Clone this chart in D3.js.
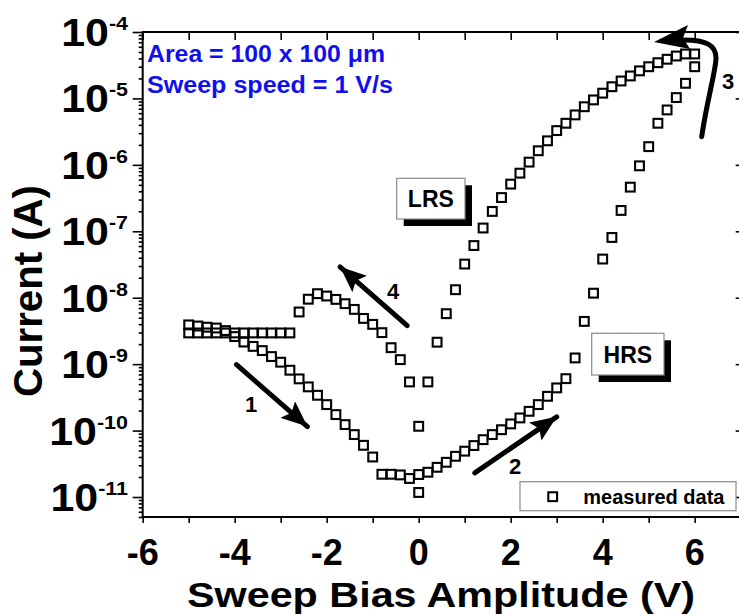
<!DOCTYPE html>
<html>
<head>
<meta charset="utf-8">
<script src="https://cdn.jsdelivr.net/npm/d3@7"></script>
<style>
body { margin: 0; background: #fff; }
svg { display: block; font-family: "Liberation Sans", Arial, sans-serif; font-weight: bold; }
</style>
</head>
<body>
<svg id="chart" width="739" height="615"></svg>
<script>
// sweep 1 : -5 V -> 0 V, HRS negative side
var sweep1Volts = [-5.0, -4.8, -4.6, -4.4, -4.2, -4.0, -3.8, -3.6, -3.4, -3.2, -3.0, -2.8, -2.6,
    -2.4, -2.2, -2.0, -1.8, -1.6, -1.4, -1.2, -1.0, -0.8, -0.6, -0.4, -0.2, 0.0];
var sweep1Amps = [3.9e-9, 3.75e-9, 3.6e-9, 3.5e-9, 3.2e-9, 2.6e-9, 2.15e-9, 1.85e-9, 1.6e-9, 1.3e-9,
    1.07e-9, 8.1e-10, 6.0e-10, 4.55e-10, 3.4e-10, 2.46e-10, 1.74e-10, 1.23e-10, 8.7e-11, 6.0e-11,
    4.0e-11, 2.2e-11, 2.2e-11, 2.15e-11, 1.9e-11, 1.17e-11];

// sweep 2 : 0 V -> 6 V, HRS positive side (set)
var sweep2Volts = [0.0, 0.2, 0.4, 0.6, 0.8, 1.0, 1.2, 1.4, 1.6, 1.8, 2.0, 2.2, 2.4, 2.6, 2.8, 3.0,
    3.2, 3.4, 3.6, 3.8, 4.0, 4.2, 4.4, 4.6, 4.8, 5.0, 5.2, 5.4, 5.6, 5.8, 6.0];
var sweep2Amps = [2.18e-11, 2.36e-11, 2.8e-11, 3.33e-11, 4.1e-11, 4.9e-11, 5.95e-11, 7.3e-11, 8.7e-11,
    1.03e-10, 1.26e-10, 1.55e-10, 1.95e-10, 2.46e-10, 3.28e-10, 4.39e-10, 6.05e-10, 1.24e-9, 4.4e-9,
    1.17e-8, 3.82e-8, 8.07e-8, 2.06e-7, 4.62e-7, 9.67e-7, 1.88e-6, 4.23e-6, 6.71e-6, 1.03e-5, 1.69e-5, 3.0e-5];

// sweep 3 : 6 V -> 0 V, LRS
var sweep3Volts = [6.0, 5.8, 5.6, 5.4, 5.2, 5.0, 4.8, 4.6, 4.4, 4.2, 4.0, 3.8, 3.6, 3.4, 3.2, 3.0,
    2.8, 2.6, 2.4, 2.2, 2.0, 1.8, 1.6, 1.4, 1.2, 1.0, 0.8, 0.6, 0.4, 0.2, 0.0];
var sweep3Amps = [4.67e-5, 4.67e-5, 4.35e-5, 3.89e-5, 3.45e-5, 3.0e-5, 2.6e-5, 2.18e-5, 1.83e-5, 1.5e-5,
    1.2e-5, 9.5e-6, 7.5e-6, 5.65e-6, 4.23e-6, 3.28e-6, 2.3e-6, 1.63e-6, 1.1e-6, 7.5e-7, 5.13e-7,
    3.22e-7, 1.99e-7, 1.12e-7, 6.1e-8, 3.21e-8, 1.32e-8, 5.75e-9, 2.14e-9, 5.4e-10, 1.16e-10];

// sweep 4 : 0 V -> -5 V, reset
var sweep4Volts = [-0.2, -0.4, -0.6, -0.8, -1.0, -1.2, -1.4, -1.6, -1.8, -2.0, -2.2, -2.4, -2.6,
    -2.8, -3.0, -3.2, -3.4, -3.6, -3.8, -4.0, -4.2, -4.4, -4.6, -4.8, -5.0];
var sweep4Amps = [5.4e-10, 1.17e-9, 1.77e-9, 2.98e-9, 3.97e-9, 4.88e-9, 6.67e-9, 8.13e-9, 9.44e-9,
    1.06e-8, 1.15e-8, 9.5e-9, 6.1e-9, 2.95e-9, 2.95e-9, 2.95e-9, 2.95e-9, 2.95e-9, 2.95e-9,
    2.95e-9, 2.95e-9, 2.95e-9, 2.95e-9, 2.95e-9, 2.95e-9];

var xTicks = [-6, -5, -4, -3, -2, -1, 0, 1, 2, 3, 4, 5, 6, 7];
var xTickLabels = [-6, -4, -2, 0, 2, 4, 6];
var yDecades = [-11, -10, -9, -8, -7, -6, -5, -4];

// straight arrows, [volts, amps] tail then tip
var arrows = [
    {label: '1', from: [-3.96, 9.8e-10], to: [-2.42, 1.15e-10], lx: 251, ly: 412},
    {label: '2', from: [1.22, 2.31e-11], to: [3.0, 1.61e-10], lx: 515, ly: 474},
    {label: '4', from: [-0.25, 3.8e-9], to: [-1.71, 2.92e-8], lx: 393, ly: 299}
];

var svg = d3.select('#chart');
var plotL = 142.7, plotR = 740.7, plotT = 32, plotB = 517;

var x = d3.scaleLinear().domain([-6, 7]).range([plotL, plotR]);
var y = d3.scaleLog().domain([5e-12, 1e-4]).range([plotB, plotT]);

var points = [];
[[sweep1Volts, sweep1Amps], [sweep2Volts, sweep2Amps], [sweep3Volts, sweep3Amps], [sweep4Volts, sweep4Amps]]
    .forEach(function (s) {
        s[0].forEach(function (v, i) { points.push([v, s[1][i]]); });
    });

// frame + axes
var allY = y.ticks();
var majorY = allY.filter(function (d) { return Math.abs(Math.log10(d) - Math.round(Math.log10(d))) < 1e-6; });
var minorY = allY.filter(function (d) { return majorY.indexOf(d) < 0; });

function axisStyle(g) {
    g.select('.domain').remove();
    g.selectAll('line').attr('stroke', '#000').attr('stroke-width', 1.6);
    g.selectAll('text').remove();
}

svg.append('g').attr('transform', 'translate(' + plotL + ',0)')
    .call(d3.axisLeft(y).tickValues(majorY).tickSize(10)).call(axisStyle);
svg.append('g').attr('transform', 'translate(' + plotL + ',0)')
    .call(d3.axisLeft(y).tickValues(minorY).tickSize(4)).call(axisStyle);
svg.append('g').attr('transform', 'translate(' + plotR + ',0)')
    .call(d3.axisRight(y).tickValues(majorY).tickSize(-5)).call(axisStyle);
svg.append('g').attr('transform', 'translate(0,' + plotB + ')')
    .call(d3.axisBottom(x).tickValues(xTicks).tickSize(6)).call(axisStyle);
svg.append('g').attr('transform', 'translate(0,' + plotT + ')')
    .call(d3.axisTop(x).tickValues(xTicks).tickSize(-8)).call(axisStyle);

svg.append('path')
    .attr('d', 'M' + plotR + ',' + plotT + 'H' + plotL + 'V' + plotB + 'H' + plotR)
    .attr('fill', 'none').attr('stroke', '#000').attr('stroke-width', 2);

// tick labels
svg.selectAll('.xlab').data(xTickLabels).enter().append('text')
    .attr('class', 'xlab')
    .attr('x', function (d) { return x(d); })
    .attr('y', 565)
    .attr('text-anchor', 'middle')
    .style('font-size', '36px')
    .text(function (d) { return String(d); });

var ylab = svg.selectAll('.ylab').data(yDecades).enter().append('g')
    .attr('class', 'ylab')
    .attr('transform', function (d) { return 'translate(128,' + (y(Math.pow(10, d)) + 14) + ') scale(1.13,1)'; })
    .append('text')
    .attr('text-anchor', 'end');
ylab.append('tspan').style('font-size', '38px').text('10');
ylab.append('tspan').style('font-size', '19px').attr('dy', -16).text(function (d) { return String(d); });

// axis titles
svg.append('text')
    .attr('x', 441).attr('y', 607)
    .attr('text-anchor', 'middle')
    .attr('textLength', 508).attr('lengthAdjust', 'spacingAndGlyphs')
    .style('font-size', '35px')
    .text('Sweep Bias Amplitude (V)');

svg.append('text')
    .attr('transform', 'translate(42,291) rotate(-90)')
    .attr('text-anchor', 'middle')
    .attr('textLength', 212).attr('lengthAdjust', 'spacingAndGlyphs')
    .style('font-size', '40px')
    .text('Current (A)');

// measured data
svg.append('g').selectAll('rect').data(points).enter().append('rect')
    .attr('x', function (d) { return x(d[0]) - 4.4; })
    .attr('y', function (d) { return y(d[1]) - 4.4; })
    .attr('width', 8.8).attr('height', 8.8)
    .attr('fill', 'none').attr('stroke', '#000').attr('stroke-width', 2.1);

// info text
svg.append('text').attr('x', 147).attr('y', 61.5)
    .attr('fill', '#1010ee').style('font-size', '23px')
    .attr('textLength', 238).attr('lengthAdjust', 'spacingAndGlyphs')
    .text('Area = 100 x 100 \u03bcm');
svg.append('text').attr('x', 147).attr('y', 92.5)
    .attr('fill', '#1010ee').style('font-size', '23px')
    .attr('textLength', 246).attr('lengthAdjust', 'spacingAndGlyphs')
    .text('Sweep speed = 1 V/s');

// LRS / HRS boxes
function stateBox(x0, y0, w, h, label) {
    svg.append('rect').attr('x', x0 + 7).attr('y', y0 + 7).attr('width', w).attr('height', h).attr('fill', '#000');
    svg.append('rect').attr('x', x0).attr('y', y0).attr('width', w).attr('height', h)
        .attr('fill', '#fff').attr('stroke', '#8a8a8a').attr('stroke-width', 1.2);
    svg.append('text').attr('x', x0 + w / 2).attr('y', y0 + h / 2 + 8.5)
        .attr('text-anchor', 'middle').style('font-size', '23px').text(label);
}
stateBox(396.7, 178.3, 68.3, 40.7, 'LRS');
stateBox(591.7, 333.3, 72.3, 41.7, 'HRS');

// arrows
var defs = svg.append('defs');
defs.append('marker')
    .attr('id', 'head')
    .attr('markerUnits', 'userSpaceOnUse')
    .attr('viewBox', '0 -11 26 22')
    .attr('markerWidth', 26).attr('markerHeight', 22)
    .attr('refX', 26).attr('refY', 0)
    .attr('orient', 'auto')
    .append('path').attr('d', 'M0,-11L26,0L0,11L5,0Z').attr('fill', '#000');

arrows.forEach(function (a) {
    var x1 = x(a.from[0]), y1 = y(a.from[1]), x2 = x(a.to[0]), y2 = y(a.to[1]);
    svg.append('line')
        .attr('x1', x1).attr('y1', y1).attr('x2', x2).attr('y2', y2)
        .attr('stroke', '#000').attr('stroke-width', 5)
        .attr('stroke-linecap', 'round')
        .attr('marker-end', 'url(#head)');
    svg.append('text').attr('x', a.lx).attr('y', a.ly)
        .attr('text-anchor', 'middle').style('font-size', '22px').text(a.label);
});

// curved arrow 3
svg.append('path')
    .attr('d', 'M701.7,136.7C707,100 716,70 716,58C716,45 706,40 684,40')
    .attr('fill', 'none').attr('stroke', '#000').attr('stroke-width', 5).attr('stroke-linecap', 'round');
svg.append('path').attr('d', 'M654,42L688,25L683,38L690,49Z').attr('fill', '#000');
svg.append('text').attr('x', 728).attr('y', 89)
    .attr('text-anchor', 'middle').style('font-size', '22px').text('3');

// legend
svg.append('rect').attr('x', 520).attr('y', 481.7).attr('width', 216).attr('height', 29)
    .attr('fill', '#fff').attr('stroke', '#8a8a8a').attr('stroke-width', 1.2);
svg.append('rect').attr('x', 552.7 - 4.4).attr('y', 496.7 - 4.4).attr('width', 8.8).attr('height', 8.8)
    .attr('fill', 'none').attr('stroke', '#000').attr('stroke-width', 2.1);
svg.append('text').attr('x', 583.3).attr('y', 504).style('font-size', '20px').text('measured data');
</script>
</body>
</html>
